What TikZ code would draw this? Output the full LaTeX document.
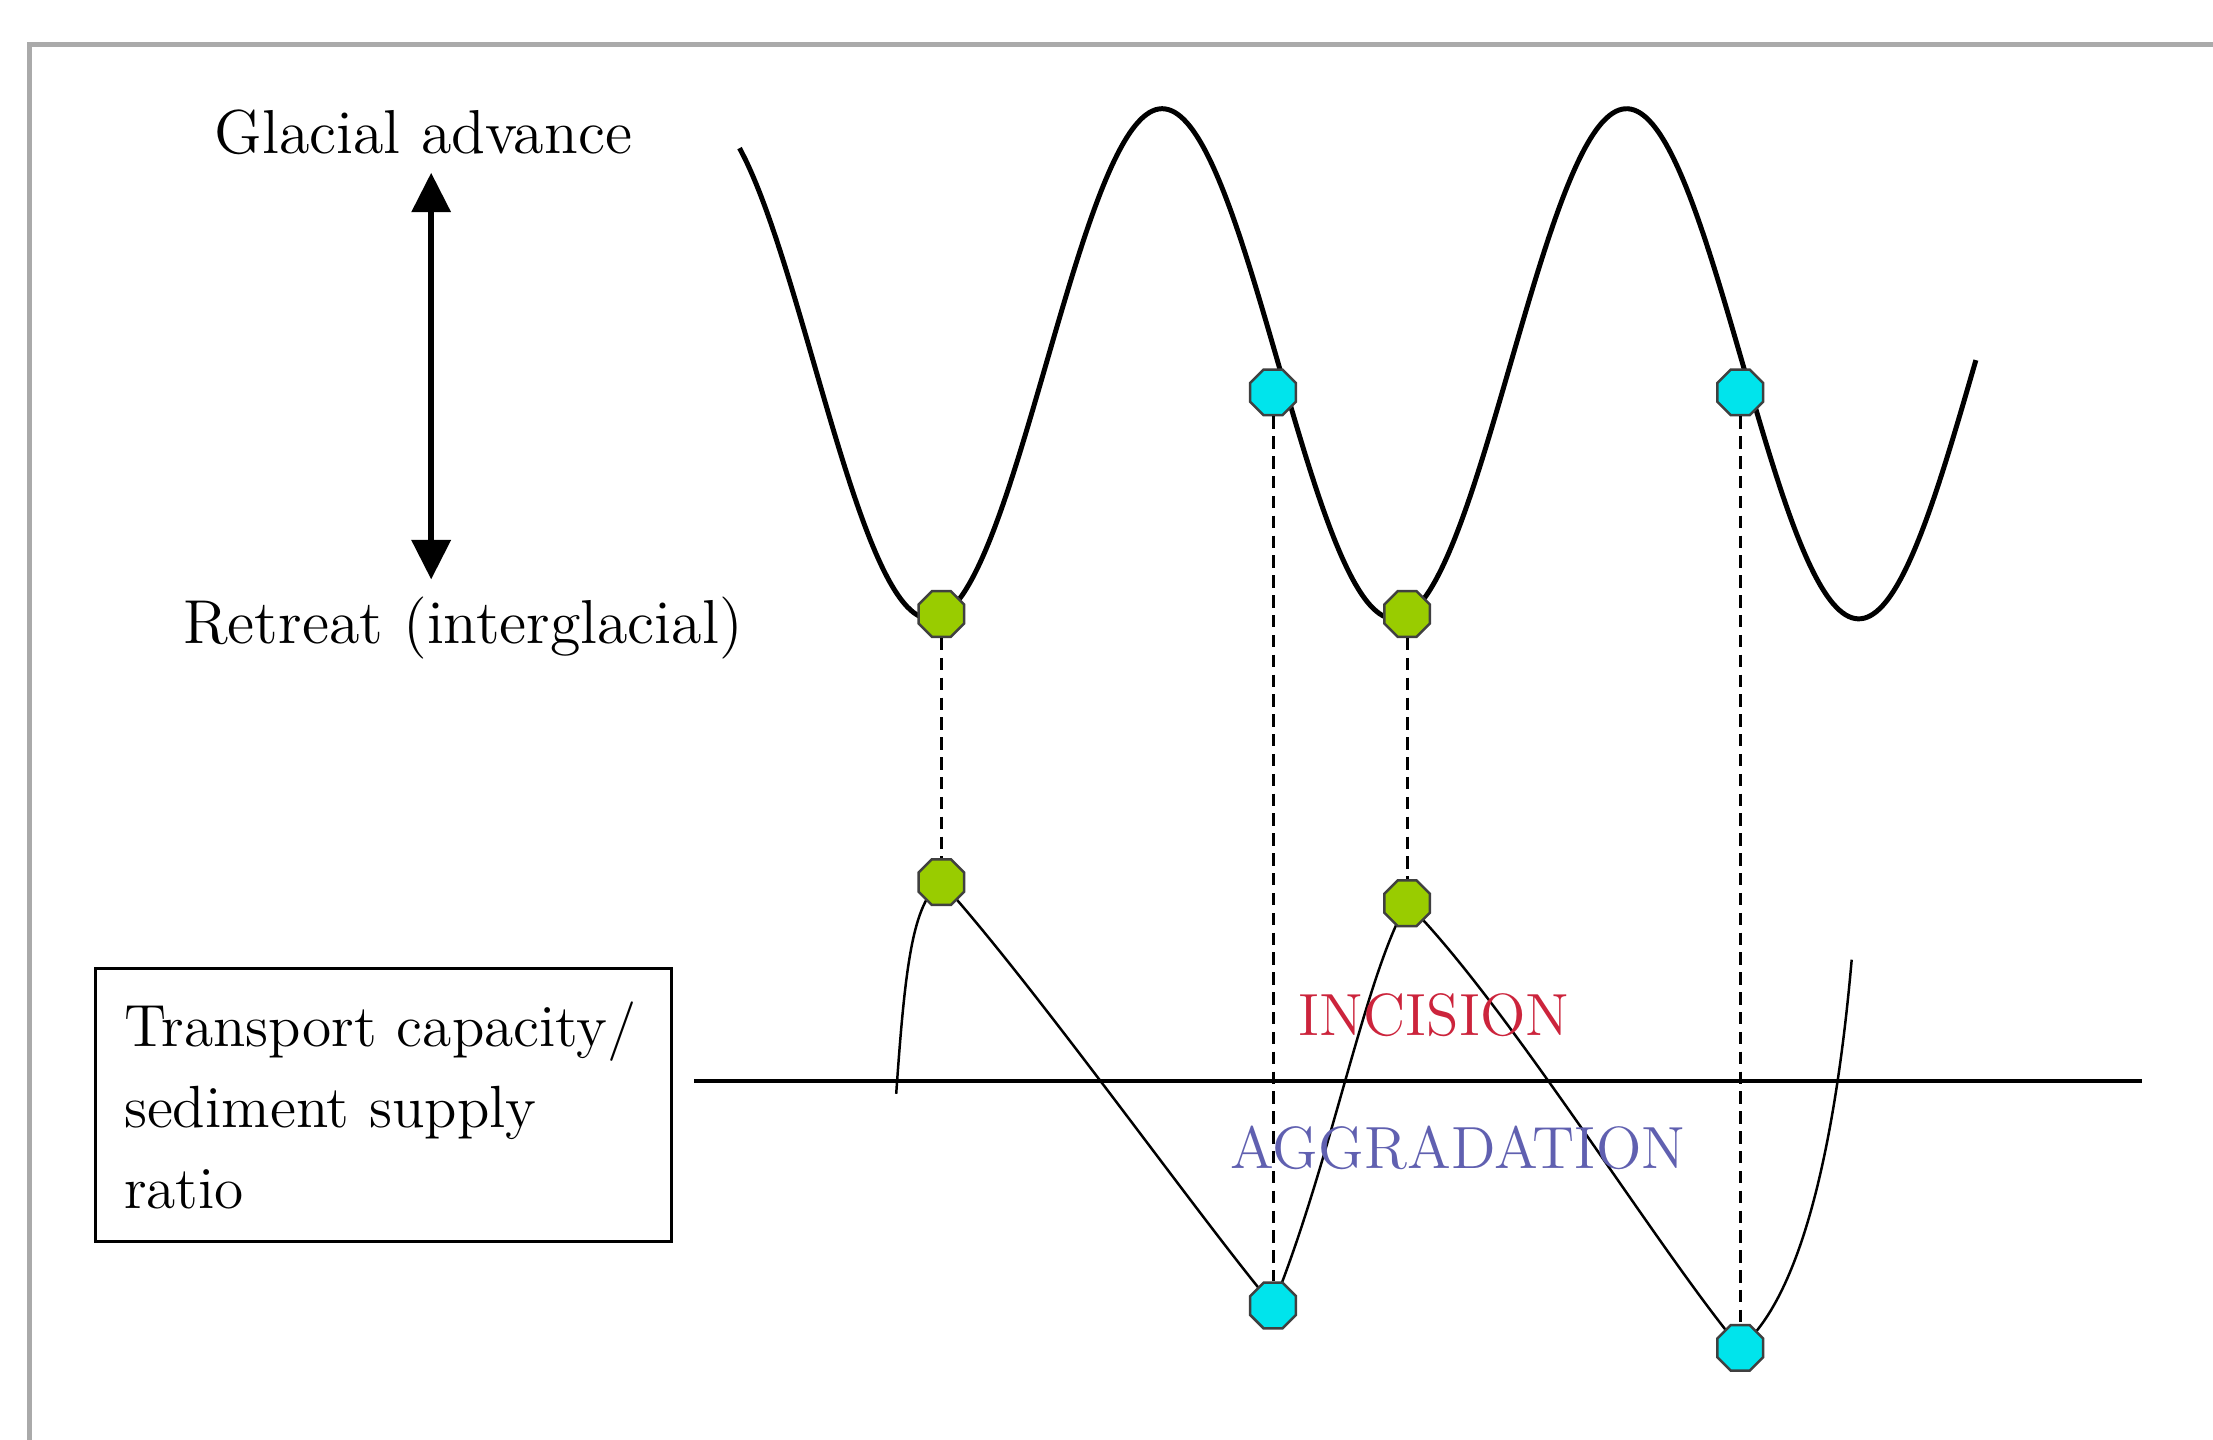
\documentclass[tikz,border=0pt]{standalone}
\usepackage{xcolor}
\usepackage{tikz}
\usetikzlibrary{arrows.meta,positioning,shapes.geometric,backgrounds}

\definecolor{dotgreen}{RGB}{153,204,0}
\definecolor{dotcyan}{RGB}{0,228,236}
\definecolor{incred}{RGB}{204,36,60}
\definecolor{aggblue}{RGB}{96,96,176}
\definecolor{framegray}{RGB}{170,170,170}

\begin{document}
\begin{tikzpicture}[
  x=0.01cm, y=0.01cm,
  lbl/.style={font=\fontsize{12.5}{15}\selectfont},
  ratiobox/.style={rectangle,draw,line width=0.6pt,align=left,text width=3.68cm,minimum width=4.08cm,minimum height=1.93cm,inner sep=0.2cm,font=\fontsize{12}{16.3}\selectfont},
  zone/.style={font=\fontsize{12}{14}\selectfont},
  gdot/.style={regular polygon,regular polygon sides=8,draw=black!75,fill=dotgreen,minimum size=0.35cm,inner sep=0pt,line width=0.5pt},
  cdot/.style={gdot,fill=dotcyan},
  dblarr/.style={{Triangle[length=0.28cm,width=0.27cm]}-{Triangle[length=0.28cm,width=0.27cm]},line width=1.3pt},
  link/.style={dash pattern=on 2.5pt off 1.5pt,line width=0.6pt},
  glacier/.style={line width=1pt},
  ratioline/.style={line width=0.5pt},
  axis/.style={line width=0.7pt}
]
\useasboundingbox (0,0) rectangle (1568,1020);

% glacial cycle
\node[gdot] (g1) at (667,585) {};
\node[gdot] (g2) at (997,585) {};
\node[cdot] (c1) at (902,742) {};
\node[cdot] (c2) at (1233,742) {};

% transport / supply ratio
\node[gdot] (g3) at (667,395) {};
\node[gdot] (g4) at (997,380) {};
\node[cdot] (c3) at (902,95) {};
\node[cdot] (c4) at (1233,65) {};

\node[lbl,anchor=base] (adv) at (300,911) {Glacial advance};
\node[lbl,anchor=base] (ret) at (328,564) {Retreat (interglacial)};
\draw[dblarr] ([xshift=0.055cm]adv.south) -- ([xshift=0.055cm]adv.south |- ret.north);

\node[ratiobox] (ratio) at (272,237) {Transport capacity/\\sediment supply\\ratio};

\coordinate (axl) at (492,254);
\coordinate (axr) at (1518,254);
\draw[axis] (axl) -- (axr);

\node[zone,text=incred,anchor=base] (incis) at (1016,286) {INCISION};
\node[zone,text=aggblue,anchor=base] (aggr) at (1033,192) {AGGRADATION};

\draw[link] (g1) -- (g3);
\draw[link] (c1) -- (c3);
\draw[link] (g2) -- (g4);
\draw[link] (c2) -- (c4);

\begin{scope}[on background layer]
  \fill[white] (0,0) rectangle (1568,1020);
  \draw[framegray,line width=0.9pt] (20.8,-20) |- (1600,988.4);
  \draw[glacier] plot[domain=524:1400,samples=200,smooth]
    (\x,{762.25+180.75*cos(360*((\x-823.5)/329))});
  \draw[ratioline] (635,245) .. controls +(86:90) and +(215:25) .. (g3.center)
    .. controls +(-48:100) and +(130:80) .. (c3.center)
    .. controls +(68:110) and +(240:60) .. (g4.center)
    .. controls +(-45:100) and +(130:90) .. (c4.center)
    .. controls +(40:60) and +(265:120) .. (1312,340);
\end{scope}
\end{tikzpicture}
\end{document}
